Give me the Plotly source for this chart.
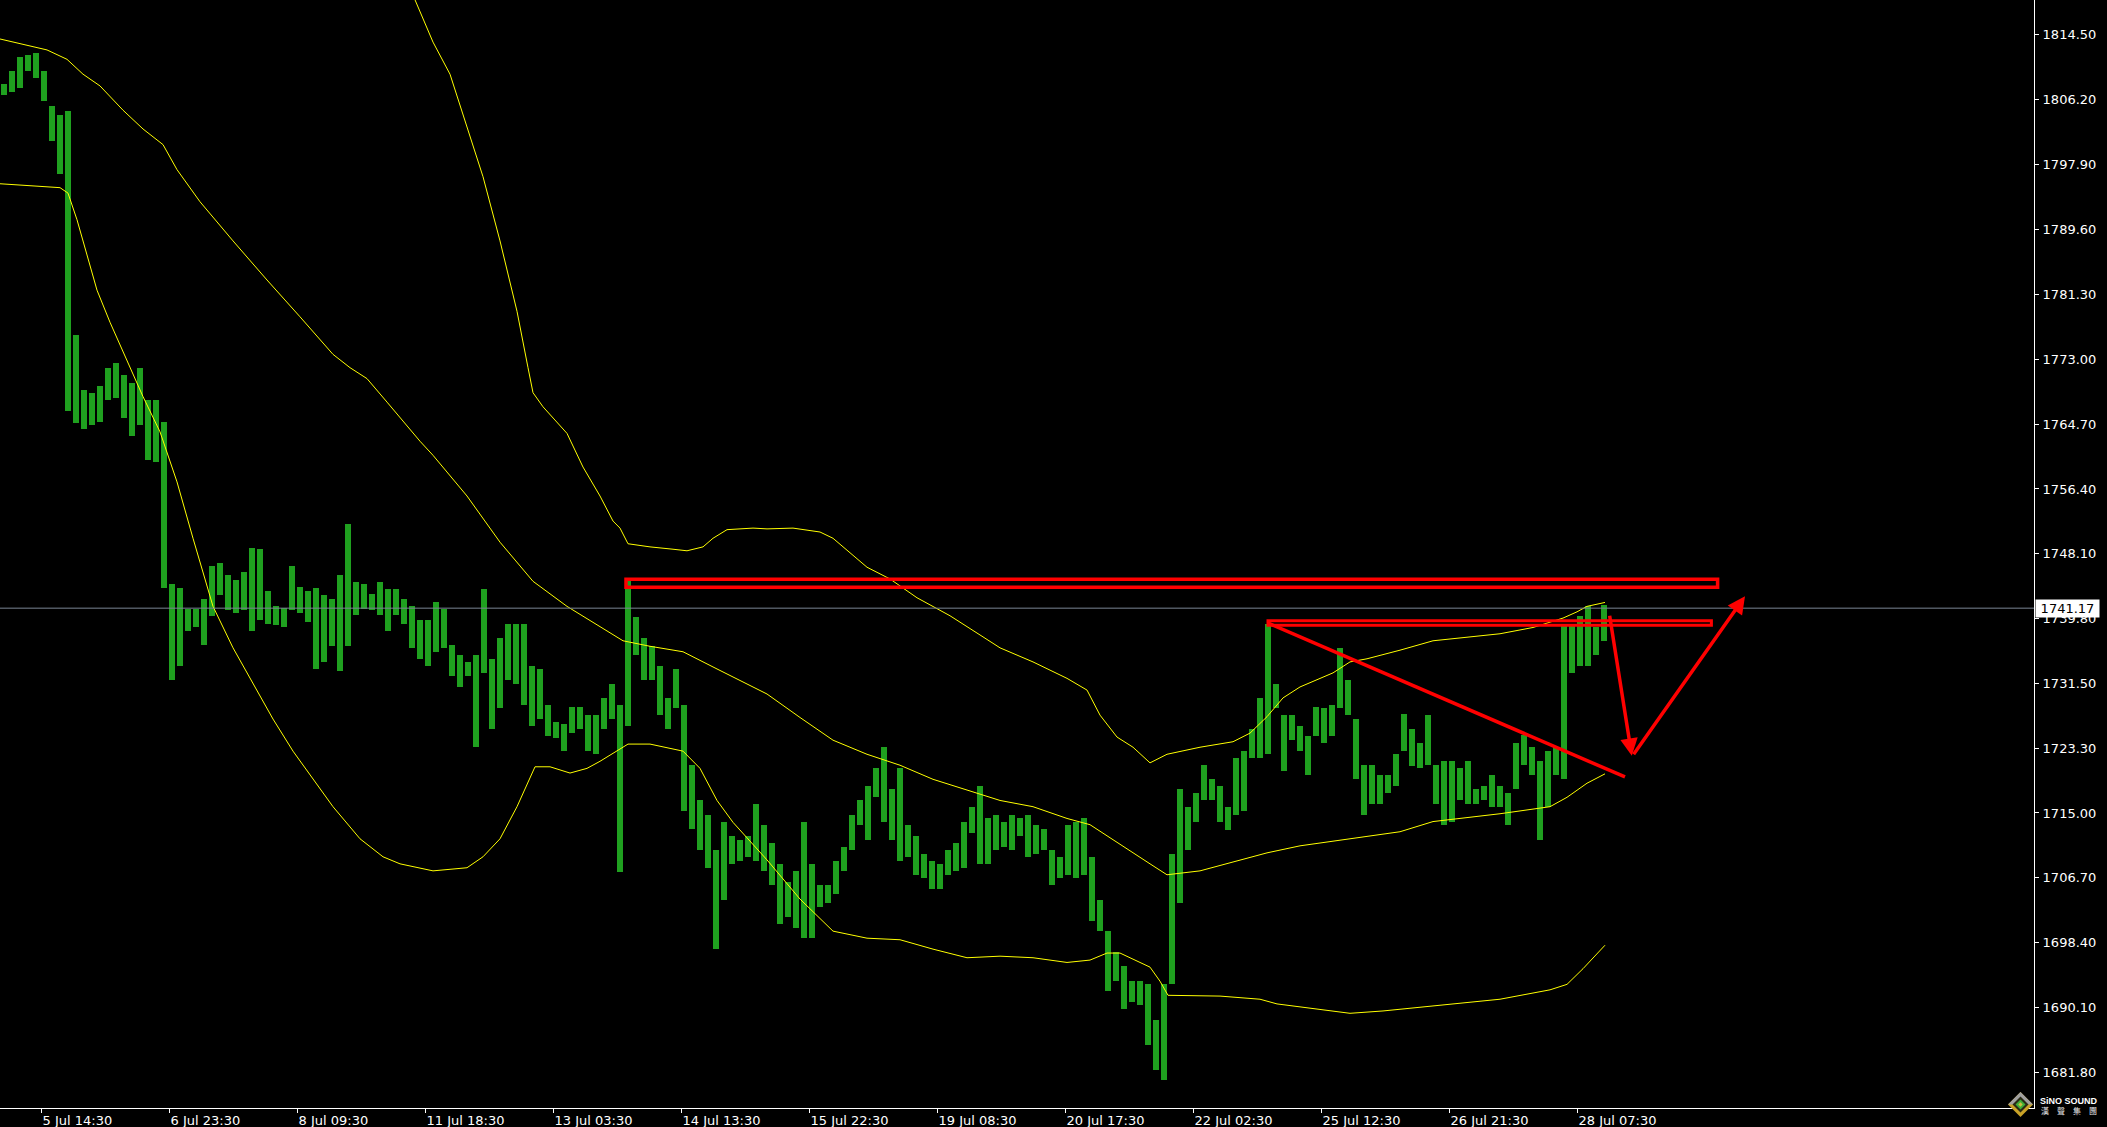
import plotly.graph_objects as go

# ---------------- data (XAUUSD M30) ----------------
BARS_PER_SAMPLE = 4  # each sample summarises 4 half-hour bars

highs = [
    1808.2, 1809.8, 1811.6, 1811.9, 1812.1, 1809.8, 1805.3, 1804.2, 1804.7, 1776.1,
    1769.1, 1768.6, 1769.6, 1771.8, 1772.5, 1770.9, 1770.0, 1771.8, 1767.8, 1767.8,
    1765.0, 1744.2, 1743.8, 1741.1, 1741.1, 1742.4, 1746.5, 1746.9, 1745.4, 1744.8,
    1745.8, 1748.9, 1748.7, 1743.3, 1741.5, 1741.2, 1746.5, 1743.9, 1743.3, 1743.8,
    1742.9, 1742.4, 1745.4, 1751.9, 1744.5, 1744.2, 1743.0, 1744.5, 1743.6, 1743.6,
    1742.4, 1741.5, 1739.7, 1739.7, 1742.0, 1741.1, 1736.5, 1735.2, 1734.3, 1735.2,
    1743.6, 1734.7, 1737.4, 1739.2, 1739.2, 1739.2, 1733.8, 1733.4, 1728.8, 1726.6,
    1726.4, 1728.6, 1728.6, 1727.5, 1727.5, 1729.7, 1731.5, 1728.8, 1744.7, 1740.0,
    1737.4, 1736.3, 1733.8, 1729.7, 1733.4, 1728.8, 1721.1, 1716.6, 1714.8, 1710.3,
    1713.9, 1712.1, 1711.6, 1712.1, 1716.1, 1713.4, 1711.2, 1708.5, 1706.2, 1707.6,
    1713.9, 1708.5, 1705.8, 1705.8, 1708.9, 1710.7, 1714.8, 1716.6, 1718.4, 1720.7,
    1723.4, 1718.0, 1720.7, 1713.4, 1712.1, 1709.8, 1708.9, 1708.5, 1710.3, 1711.2,
    1713.9, 1715.7, 1718.4, 1714.3, 1714.8, 1713.9, 1714.8, 1714.3, 1714.8, 1713.4,
    1713.0, 1710.3, 1709.4, 1713.4, 1713.9, 1714.3, 1709.4, 1703.9, 1699.9, 1697.2,
    1695.4, 1693.5, 1693.5, 1693.1, 1688.6, 1693.1, 1709.8, 1718.0, 1715.7, 1717.5,
    1721.1, 1719.3, 1718.4, 1715.7, 1722.0, 1722.9, 1725.7, 1729.7, 1739.2, 1731.5,
    1727.5, 1727.5, 1726.1, 1724.8, 1728.6, 1728.4, 1728.8, 1736.1, 1732.0, 1727.0,
    1721.1, 1721.1, 1719.8, 1719.8, 1722.5, 1727.7, 1725.7, 1723.9, 1727.5, 1721.1,
    1721.6, 1721.6, 1720.7, 1721.6, 1718.0, 1718.4, 1719.8, 1718.4, 1717.5, 1723.9,
    1725.0, 1723.4, 1721.6, 1722.9, 1723.4, 1739.2, 1739.2, 1740.2, 1741.5, 1738.8,
    1741.6,
]
lows = [
    1806.7, 1807.1, 1807.6, 1809.8, 1808.9, 1806.0, 1800.8, 1796.7, 1766.4, 1764.8,
    1764.1, 1764.6, 1765.0, 1767.8, 1768.0, 1765.5, 1763.2, 1764.6, 1760.1, 1759.9,
    1743.8, 1732.0, 1733.8, 1738.3, 1738.8, 1736.5, 1740.2, 1742.9, 1740.9, 1740.6,
    1740.9, 1738.2, 1739.7, 1739.2, 1739.0, 1738.8, 1740.9, 1740.6, 1739.4, 1733.4,
    1734.3, 1736.3, 1733.1, 1736.3, 1740.3, 1741.1, 1740.9, 1740.3, 1738.3, 1740.3,
    1739.2, 1736.1, 1734.7, 1733.8, 1735.6, 1736.1, 1732.5, 1731.1, 1732.5, 1723.4,
    1732.9, 1725.7, 1728.4, 1732.0, 1731.5, 1728.8, 1726.1, 1727.0, 1724.8, 1724.6,
    1722.9, 1725.2, 1725.7, 1722.9, 1722.5, 1725.7, 1727.0, 1707.4, 1726.1, 1735.2,
    1732.0, 1732.0, 1727.5, 1725.7, 1728.4, 1715.3, 1713.0, 1710.3, 1708.0, 1697.6,
    1703.9, 1708.5, 1708.9, 1709.4, 1708.9, 1707.6, 1705.8, 1700.8, 1701.7, 1700.3,
    1699.0, 1699.0, 1703.0, 1703.5, 1704.7, 1707.6, 1710.3, 1713.4, 1711.6, 1717.1,
    1713.9, 1711.6, 1708.9, 1709.4, 1707.1, 1706.7, 1705.3, 1705.3, 1707.1, 1707.6,
    1708.0, 1712.5, 1708.5, 1708.5, 1710.3, 1710.7, 1710.3, 1712.1, 1709.4, 1709.8,
    1710.3, 1705.8, 1706.7, 1707.1, 1706.7, 1707.1, 1701.2, 1699.9, 1692.2, 1693.5,
    1689.9, 1690.8, 1690.4, 1685.4, 1682.2, 1680.9, 1693.1, 1703.5, 1710.3, 1713.9,
    1716.6, 1716.6, 1713.9, 1712.8, 1714.8, 1715.3, 1722.0, 1722.0, 1722.5, 1728.4,
    1720.4, 1724.3, 1722.9, 1719.8, 1724.8, 1723.9, 1724.8, 1728.4, 1727.5, 1719.3,
    1714.8, 1716.1, 1716.1, 1717.5, 1718.4, 1722.9, 1721.0, 1720.7, 1721.1, 1716.1,
    1713.4, 1713.9, 1716.6, 1716.1, 1716.1, 1716.6, 1715.7, 1715.7, 1713.4, 1718.0,
    1721.1, 1719.8, 1711.6, 1715.7, 1719.8, 1719.3, 1732.9, 1733.8, 1733.8, 1735.2,
    1737.0,
]

# Bollinger bands (x = bar index)
upper_x = [200, 207.5, 216.5, 225, 233.5, 241.5, 250, 258.5, 264, 266.5,
           271.5, 283.5, 291.5, 300, 306.5, 310, 314, 325, 336.5, 343.5,
           351.5, 356.5, 363.5, 376.5, 383.5, 396.5, 410, 416.5, 433.5, 445,
           458.5, 475, 491.5, 500, 516.5, 533.5, 543.5, 550, 558.5, 566.5,
           575, 583.5, 600, 616.5, 625, 633.5, 641.5, 650, 666.5, 675,
           683.5, 700, 716.5, 733.5, 750, 766.5, 781.5, 788.5, 793.5, 802.5]
upper_y = [1823.4, 1818.9, 1813.5, 1809.4, 1802.6, 1796.3, 1788.1, 1779.1, 1771.9, 1768.7,
           1766.9, 1763.5, 1759.2, 1755.5, 1752.3, 1751.4, 1749.4, 1749.0, 1748.7, 1748.5,
           1749.0, 1750.1, 1751.2, 1751.4, 1751.3, 1751.4, 1750.9, 1750.1, 1746.4, 1744.9,
           1742.5, 1740.2, 1737.5, 1736.1, 1734.3, 1732.2, 1730.7, 1727.5, 1724.7, 1723.4,
           1721.4, 1722.5, 1723.4, 1724.1, 1725.2, 1727.3, 1729.7, 1731.1, 1732.9, 1734.3,
           1734.7, 1735.8, 1737.0, 1737.5, 1737.9, 1738.7, 1739.9, 1740.7, 1741.4, 1741.9]

middle_x = [0, 10, 23.5, 33.5, 41.5, 50, 61.5, 71.5, 81.5, 88.5,
            100, 116.5, 133.5, 150, 166.5, 175, 183.5, 193.5, 200, 210,
            216.5, 233.5, 250, 266.5, 283.5, 300, 311.5, 325, 341.5, 358.5,
            383.5, 400, 416.5, 433.5, 450, 466.5, 483.5, 500, 516.5, 533.5,
            545, 558.5, 575, 583.5, 600, 633.5, 650, 675, 700, 716.5,
            750, 775, 783.5, 793.5, 802.5]
middle_y = [1813.9, 1813.3, 1812.5, 1811.3, 1809.4, 1807.9, 1804.8, 1802.4, 1800.4, 1797.2,
            1793.1, 1788.1, 1783.1, 1778.4, 1773.6, 1771.9, 1770.5, 1767.5, 1765.5, 1762.5,
            1760.7, 1755.5, 1749.6, 1744.6, 1741.4, 1738.8, 1737.0, 1736.3, 1735.6, 1733.4,
            1730.2, 1727.2, 1724.3, 1722.5, 1721.1, 1719.3, 1717.9, 1716.6, 1715.8, 1714.3,
            1713.5, 1711.2, 1708.5, 1707.1, 1707.6, 1709.9, 1710.8, 1711.7, 1712.6, 1713.9,
            1714.9, 1715.8, 1717.0, 1718.8, 1720.0]

lower_x = [0, 16.5, 30, 34, 38.5, 43.5, 48.5, 55, 63.5, 71.5,
           80, 88.5, 96.5, 106.5, 116.5, 126.5, 136.5, 146.5, 156.5, 166.5,
           180, 191.5, 200, 216.5, 233.5, 241.5, 250, 258.5, 267.5, 275,
           285, 293.5, 300, 308.5, 314, 325, 341.5, 350, 358.5, 366.5,
           383.5, 400, 416.5, 433.5, 450, 466.5, 483.5, 500, 516.5, 533.5,
           545, 553.5, 560, 570, 575, 580, 584, 610, 630, 638.5,
           675, 691.5, 750, 775, 783.5, 791.5, 802.5]
lower_y = [1795.4, 1795.1, 1794.9, 1794.2, 1790.8, 1786.3, 1781.8, 1777.7, 1772.7, 1768.2,
           1763.7, 1757.3, 1750.1, 1741.4, 1736.1, 1731.6, 1727.0, 1722.9, 1719.3, 1715.8,
           1711.7, 1709.4, 1708.5, 1707.6, 1708.0, 1709.4, 1711.7, 1715.8, 1720.9, 1720.9,
           1720.1, 1720.7, 1721.6, 1722.9, 1723.8, 1723.8, 1722.9, 1720.7, 1716.6, 1713.8,
           1709.0, 1704.0, 1699.9, 1699.0, 1698.8, 1697.6, 1696.5, 1696.7, 1696.5, 1695.9,
           1696.2, 1697.1, 1697.1, 1695.9, 1695.3, 1693.5, 1691.7, 1691.6, 1691.2, 1690.6,
           1689.4, 1689.7, 1691.2, 1692.4, 1693.1, 1695.1, 1698.1]

bid_price = 1741.17

y_ticks = [1814.5, 1806.2, 1797.9, 1789.6, 1781.3, 1773.0, 1764.7, 1756.4, 1748.1,
           1739.8, 1731.5, 1723.3, 1715.0, 1706.7, 1698.4, 1690.1, 1681.8]
x_tick_bars = [20.75, 84.75, 148.75, 212.75, 276.75, 340.75, 404.75, 468.75,
               532.75, 596.75, 660.75, 724.75, 788.75]
x_tick_labels = ["5 Jul 14:30", "6 Jul 23:30", "8 Jul 09:30", "11 Jul 18:30",
                 "13 Jul 03:30", "14 Jul 13:30", "15 Jul 22:30", "19 Jul 08:30",
                 "20 Jul 17:30", "22 Jul 02:30", "25 Jul 12:30", "26 Jul 21:30",
                 "28 Jul 07:30"]

# drawn objects (bar index, price)
zone_hi = dict(x0=313, x1=858.8, y0=1743.85, y1=1744.86)
zone_lo = dict(x0=634, x1=855.7, y0=1738.99, y1=1739.56)
trend = dict(x0=634, y0=1739.27, x1=812.5, y1=1719.6)
arrow_down = dict(x0=804.7, y0=1740.4, x1=815.9, y1=1722.3)
arrow_up = dict(x0=816.3, y0=1722.3, x1=872.5, y1=1742.7)

X_RANGE = [0, 1017]
Y_RANGE = [1677.30, 1818.88]

GREEN = "#1fa01f"
YELLOW = "#ffff00"
RED = "#ff0000"
FONT = "DejaVu Sans"

# ---------------- figure ----------------
bar_x = [BARS_PER_SAMPLE * k + BARS_PER_SAMPLE / 2 for k in range(len(highs))]

fig = go.Figure()
fig.add_trace(go.Bar(
    x=bar_x, y=[h - l for h, l in zip(highs, lows)], base=lows,
    width=3.3, marker=dict(color=GREEN, line=dict(width=0)),
    hoverinfo="skip", showlegend=False))

for xs, ys in [(upper_x, upper_y), (middle_x, middle_y), (lower_x, lower_y)]:
    fig.add_trace(go.Scatter(x=xs, y=ys, mode="lines",
                             line=dict(color=YELLOW, width=1),
                             hoverinfo="skip", showlegend=False))

shapes = [
    dict(type="line", xref="paper", x0=0, x1=1, yref="y", y0=bid_price, y1=bid_price,
         line=dict(color="#7a8594", width=1), layer="above"),
    dict(type="rect", xref="x", yref="y", **zone_hi,
         line=dict(color=RED, width=3.5), fillcolor="rgba(0,0,0,0)", layer="above"),
    dict(type="rect", xref="x", yref="y", **zone_lo,
         line=dict(color=RED, width=3), fillcolor="rgba(0,0,0,0)", layer="above"),
    dict(type="line", xref="x", yref="y", **trend,
         line=dict(color=RED, width=3.5), layer="above"),
]

# logo (pixel-anchored at bottom-right corner of the plot area)
def diamond(cx, cy, r):
    return f"M {cx - r},{cy} L {cx},{cy + r} L {cx + r},{cy} L {cx},{cy - r} Z"

def logo_shape(path, color):
    return dict(type="path", xref="paper", yref="paper", xsizemode="pixel",
                ysizemode="pixel", xanchor=1, yanchor=0, path=path,
                fillcolor=color, line=dict(width=0), layer="above")

cx, cy = -13.5, 3.5
shapes += [
    logo_shape(diamond(cx, cy, 12.5), "#c9a227"),
    logo_shape(f"M {cx - 12.5},{cy} L {cx},{cy + 12.5} L {cx + 12.5},{cy} Z", "#a0a0a0"),
    logo_shape(diamond(cx, cy, 8), "#2a2a14"),
    logo_shape(diamond(cx, cy, 5), "#3fae35"),
    logo_shape(diamond(cx, cy, 2.2), "#c8c040"),
]

annotations = [
    dict(x=arrow_down["x1"], y=arrow_down["y1"], ax=arrow_down["x0"], ay=arrow_down["y0"],
         xref="x", yref="y", axref="x", ayref="y", text="", showarrow=True,
         arrowhead=2, arrowsize=1, arrowwidth=3.5, arrowcolor=RED, standoff=0),
    dict(x=arrow_up["x1"], y=arrow_up["y1"], ax=arrow_up["x0"], ay=arrow_up["y0"],
         xref="x", yref="y", axref="x", ayref="y", text="", showarrow=True,
         arrowhead=2, arrowsize=1, arrowwidth=3.5, arrowcolor=RED, standoff=0),
    dict(x=1, xref="paper", y=bid_price, yref="y", xanchor="left", yanchor="middle",
         text=f"{bid_price:.2f}", showarrow=False, bgcolor="#ffffff",
         font=dict(family=FONT, size=13, color="#000000"),
         width=63, height=17, borderpad=0, xshift=0.5),
    dict(x=1, xref="paper", y=0, yref="paper", xanchor="center", yanchor="middle",
         text="<b>SiNO SOUND</b>", showarrow=False, xshift=35, yshift=7.5,
         font=dict(family="Liberation Sans", size=9, color="#ffffff")),
    dict(x=1, xref="paper", y=0, yref="paper", xanchor="center", yanchor="middle",
         text="漢\u3000聲\u3000集\u3000團", showarrow=False, xshift=35, yshift=-2,
         font=dict(family="Noto Sans CJK TC", size=8, color="#e8e8e8")),
]

fig.update_layout(
    width=2107, height=1127,
    margin=dict(l=0, r=73, t=0, b=19, pad=0),
    paper_bgcolor="#000000", plot_bgcolor="#000000",
    shapes=shapes, annotations=annotations,
    showlegend=False, bargap=0,
    xaxis=dict(range=X_RANGE, tickmode="array", tickvals=x_tick_bars, ticktext=x_tick_labels,
               ticks="outside", ticklen=4, tickwidth=1, tickcolor="#ffffff",
               showline=True, linecolor="#ffffff", linewidth=1,
               showgrid=False, zeroline=False, ticklabelposition="outside right",
               tickfont=dict(family=FONT, size=13, color="#ffffff")),
    yaxis=dict(range=Y_RANGE, side="right", tickmode="array", tickvals=y_ticks,
               ticktext=[f"{v:.2f}" for v in y_ticks],
               ticks="outside", ticklen=4, tickwidth=1, tickcolor="#ffffff",
               showline=True, linecolor="#ffffff", linewidth=1,
               showgrid=False, zeroline=False, ticklabelstandoff=1,
               tickfont=dict(family=FONT, size=13, color="#ffffff")),
)

fig.write_html(
    "out.html",
    config={"displayModeBar": False},
    post_script="document.body.style.margin='0px';"
                "document.body.style.overflow='hidden';"
                "document.body.style.background='#000000';",
)
